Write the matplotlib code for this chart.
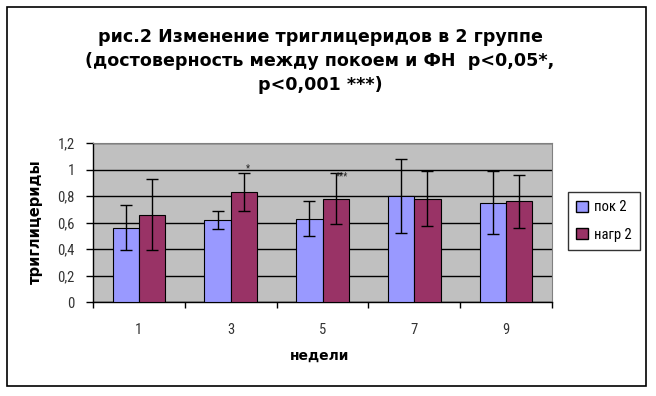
import matplotlib
matplotlib.use("Agg")
import matplotlib.pyplot as plt
from matplotlib.patches import Rectangle, Patch
from matplotlib import font_manager
import numpy as np

categories = ["1", "3", "5", "7", "9"]
pok2 = [0.56, 0.62, 0.63, 0.80, 0.75]
pok2_err = [0.17, 0.07, 0.13, 0.28, 0.235]
nagr2 = [0.66, 0.83, 0.78, 0.78, 0.76]
nagr2_err = [0.27, 0.14, 0.19, 0.21, 0.20]
marks = ["", "*", "***", "", ""]
yticks = [0, 0.2, 0.4, 0.6, 0.8, 1.0, 1.2]
ytick_labels = ["0", "0,2", "0,4", "0,6", "0,8", "1", "1,2"]
series_names = ["пок 2", "нагр 2"]
title = "рис.2 Изменение триглицеридов в 2 группе\n(достоверность между покоем и ФН  p<0,05*,\np<0,001 ***)"

names = {f.name for f in font_manager.fontManager.ttflist}
cond = [n for n in ["Liberation Sans Narrow", "DejaVu Sans Condensed", "Roboto Condensed",
                    "Open Sans Condensed"] if n in names]
narrow = (cond[:1] + ["DejaVu Sans"])
bold = ["DejaVu Sans"]

fig = plt.figure(figsize=(6.56, 3.96), dpi=100)
fig.patch.set_facecolor("white")
fig.patches.append(Rectangle((7/656, 1 - 386/396), (646-7)/656, (386-7)/396,
                             transform=fig.transFigure, fill=False,
                             edgecolor="black", linewidth=1.2))

ax = fig.add_axes([93/656, 1 - 302/396, (552-93)/656, (302-143)/396])
ax.set_facecolor("#C0C0C0")
x = np.arange(len(categories))
w = 0.2857
ekw = dict(ecolor="black", elinewidth=1, capsize=4, capthick=1)
ax.bar(x - w/2, pok2, w, color="#9999FF", edgecolor="black", linewidth=0.8,
       yerr=pok2_err, error_kw=ekw, zorder=3, label=series_names[0])
ax.bar(x + w/2, nagr2, w, color="#993366", edgecolor="black", linewidth=0.8,
       yerr=nagr2_err, error_kw=ekw, zorder=3, label=series_names[1])

for i, m in enumerate(marks):
    if m:
        top = nagr2[i] + nagr2_err[i]
        if len(m) == 1:
            ax.text(x[i] + w/2 + 0.045, top + 0.04, m, ha="center", va="center",
                    fontsize=7, family=narrow, zorder=5, color="#222222")
        else:
            ax.text(x[i] + w/2 + 0.065, top - 0.025, m, ha="center", va="center",
                    fontsize=7, family=narrow, zorder=5, color="#222222")

ax.set_ylim(0, 1.2)
ax.set_xlim(-0.5, len(categories) - 0.5)
ax.set_yticks(yticks)
ax.set_yticklabels(ytick_labels, family=narrow, fontsize=10.5, color="#333333")
ax.yaxis.grid(True, color="black", linewidth=1, zorder=1)
ax.set_axisbelow(True)
ax.set_xticks(np.arange(-0.5, len(categories), 1.0))
ax.set_xticklabels([])
ax.set_xticks(x, minor=True)
ax.set_xticklabels(categories, minor=True, family=narrow, fontsize=10.5, color="#333333")
ax.tick_params(axis="x", which="minor", length=0, pad=15)
ax.tick_params(axis="x", which="major", length=4, direction="out", width=1)
ax.tick_params(axis="y", length=5, direction="out", width=1, pad=8)
for s in ["top", "right"]:
    ax.spines[s].set_color("#808080")
for s in ["left", "bottom"]:
    ax.spines[s].set_color("black")
    ax.spines[s].set_linewidth(1)

fig.text(35/656, 1 - 222/396, "триглицериды", rotation=90, ha="center", va="center",
         family=bold, fontweight="bold", fontsize=10.5)
fig.text(320/656, 1 - 356/396, "недели", ha="center", va="center",
         family=bold, fontweight="bold", fontsize=10)
fig.text(320/656, 1 - 61/396, title, ha="center", va="center",
         family=bold, fontweight="bold", fontsize=12.6, linespacing=1.45)

leg = fig.legend(handles=[Patch(facecolor="#9999FF", edgecolor="black"),
                          Patch(facecolor="#993366", edgecolor="black")],
                 labels=series_names, loc="center", bbox_to_anchor=(604/656, 1 - 221/396),
                 frameon=True, fancybox=False, edgecolor="black",
                 prop=dict(family=narrow, size=10.5), handlelength=0.8, handleheight=0.8,
                 handletextpad=0.4, labelspacing=0.9, borderpad=0.6)
leg.get_frame().set_linewidth(1)

fig.savefig("out.png", dpi=100)
